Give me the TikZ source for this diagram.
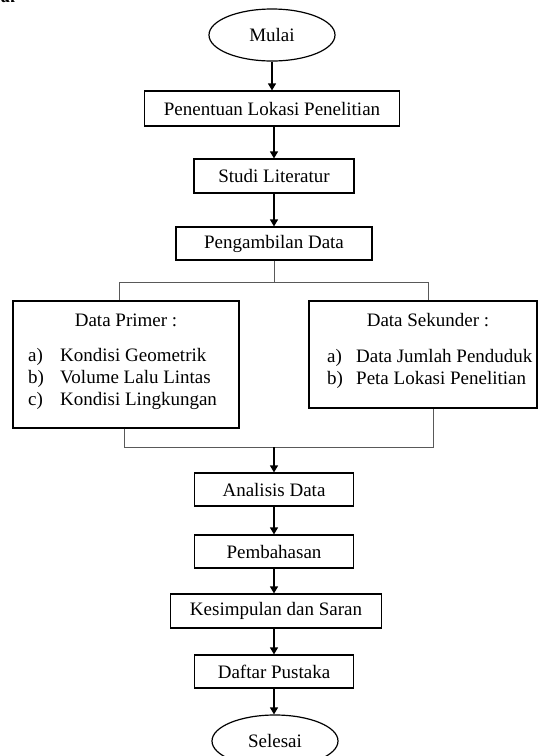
\documentclass[tikz,border=0pt]{standalone}
\usepackage{fontspec}
\setmainfont{Liberation Serif}
\usetikzlibrary{shapes.geometric,arrows.meta}
\begin{document}
\begin{tikzpicture}[x=1pt,y=-1pt,
  every node/.style={font=\fontsize{19}{22}\selectfont},
  term/.style={draw,ellipse,line width=1.2pt,minimum width=126pt,minimum height=52pt,inner sep=0pt},
  stepbox/.style={draw,rectangle,line width=1.2pt,minimum height=34pt,inner sep=0pt},
  txt/.style={inner sep=0pt,anchor=base west},
  ttl/.style={inner sep=0pt,anchor=base},
  arr/.style={line width=1.2pt,-{Triangle[length=7pt,width=8pt]}},
  link/.style={line width=0.9pt,draw=black!65}]
\useasboundingbox (0,0) rectangle (539,756);
% cut-off fragment at top left
\node[txt,font=\fontsize{19}{22}\selectfont\bfseries\itshape] (frag) at (1,2.5) {ai};

\node[term] (mulai) at (272,35) {Mulai};
\node[stepbox,minimum width=255pt,minimum height=35pt] (lokasi) at (272,108.5) {Penentuan Lokasi Penelitian};
\node[stepbox,minimum width=160pt] (studi) at (274,176) {Studi Literatur};
\node[stepbox,minimum width=196pt,minimum height=33pt] (ambil) at (274,243.5) {Pengambilan Data};

\node[stepbox,minimum width=226pt,minimum height=127pt] (primer) at (126,364.5) {};
\node[ttl] (ptitle) at (126,326) {Data Primer :};
\node[txt] (pa) at (28,361) {a)};
\node[txt] (pat) at (60,361) {Kondisi Geometrik};
\node[txt] (pb) at (28,383) {b)};
\node[txt] (pbt) at (60,383) {Volume Lalu Lintas};
\node[txt] (pc) at (28,405) {c)};
\node[txt] (pct) at (60,405) {Kondisi Lingkungan};

\node[stepbox,minimum width=228pt,minimum height=107pt] (sekunder) at (423,354.5) {};
\node[ttl] (stitle) at (428,326) {Data Sekunder :};
\node[txt] (sa) at (327,362) {a)};
\node[txt] (sat) at (356,362) {Data Jumlah Penduduk};
\node[txt] (sb) at (327,384) {b)};
\node[txt] (sbt) at (356,384) {Peta Lokasi Penelitian};

\node[stepbox,minimum width=159pt,minimum height=33pt] (analisis) at (274,489.5) {Analisis Data};
\node[stepbox,minimum width=159pt,minimum height=33pt] (bahas) at (274,551.5) {Pembahasan};
\node[stepbox,minimum width=211pt] (simpul) at (276,611) {Kesimpulan dan Saran};
\node[stepbox,minimum width=159pt,minimum height=33pt] (pustaka) at (274,671.5) {Daftar Pustaka};
\node[term] (selesai) at (275,741) {Selesai};

\coordinate (jt) at (274,282);
\coordinate (jl) at (119,282);
\coordinate (jr) at (428,282);
\coordinate (bl) at (124,447);
\coordinate (bm) at (274,447);
\coordinate (br) at (433,447);

\draw[arr] (mulai.south) -- (lokasi.north);
\draw[arr] (lokasi.south -| studi) -- (studi.north);
\draw[arr] (studi.south) -- (ambil.north);
\draw[link] (ambil.south) -- (jt);
\draw[link] (jl |- primer.north) -- (jl) -- (jr) -- (jr |- sekunder.north);
\draw[link] (bl |- primer.south) -- (bl) -- (br) -- (br |- sekunder.south);
\draw[arr] (bm) -- (analisis.north);
\draw[arr] (analisis.south) -- (bahas.north);
\draw[arr] (bahas.south) -- (simpul.north -| bahas);
\draw[arr] (simpul.south -| pustaka) -- (pustaka.north);
\draw[arr] (pustaka.south) -- (selesai.north -| pustaka);
\end{tikzpicture}
\end{document}
